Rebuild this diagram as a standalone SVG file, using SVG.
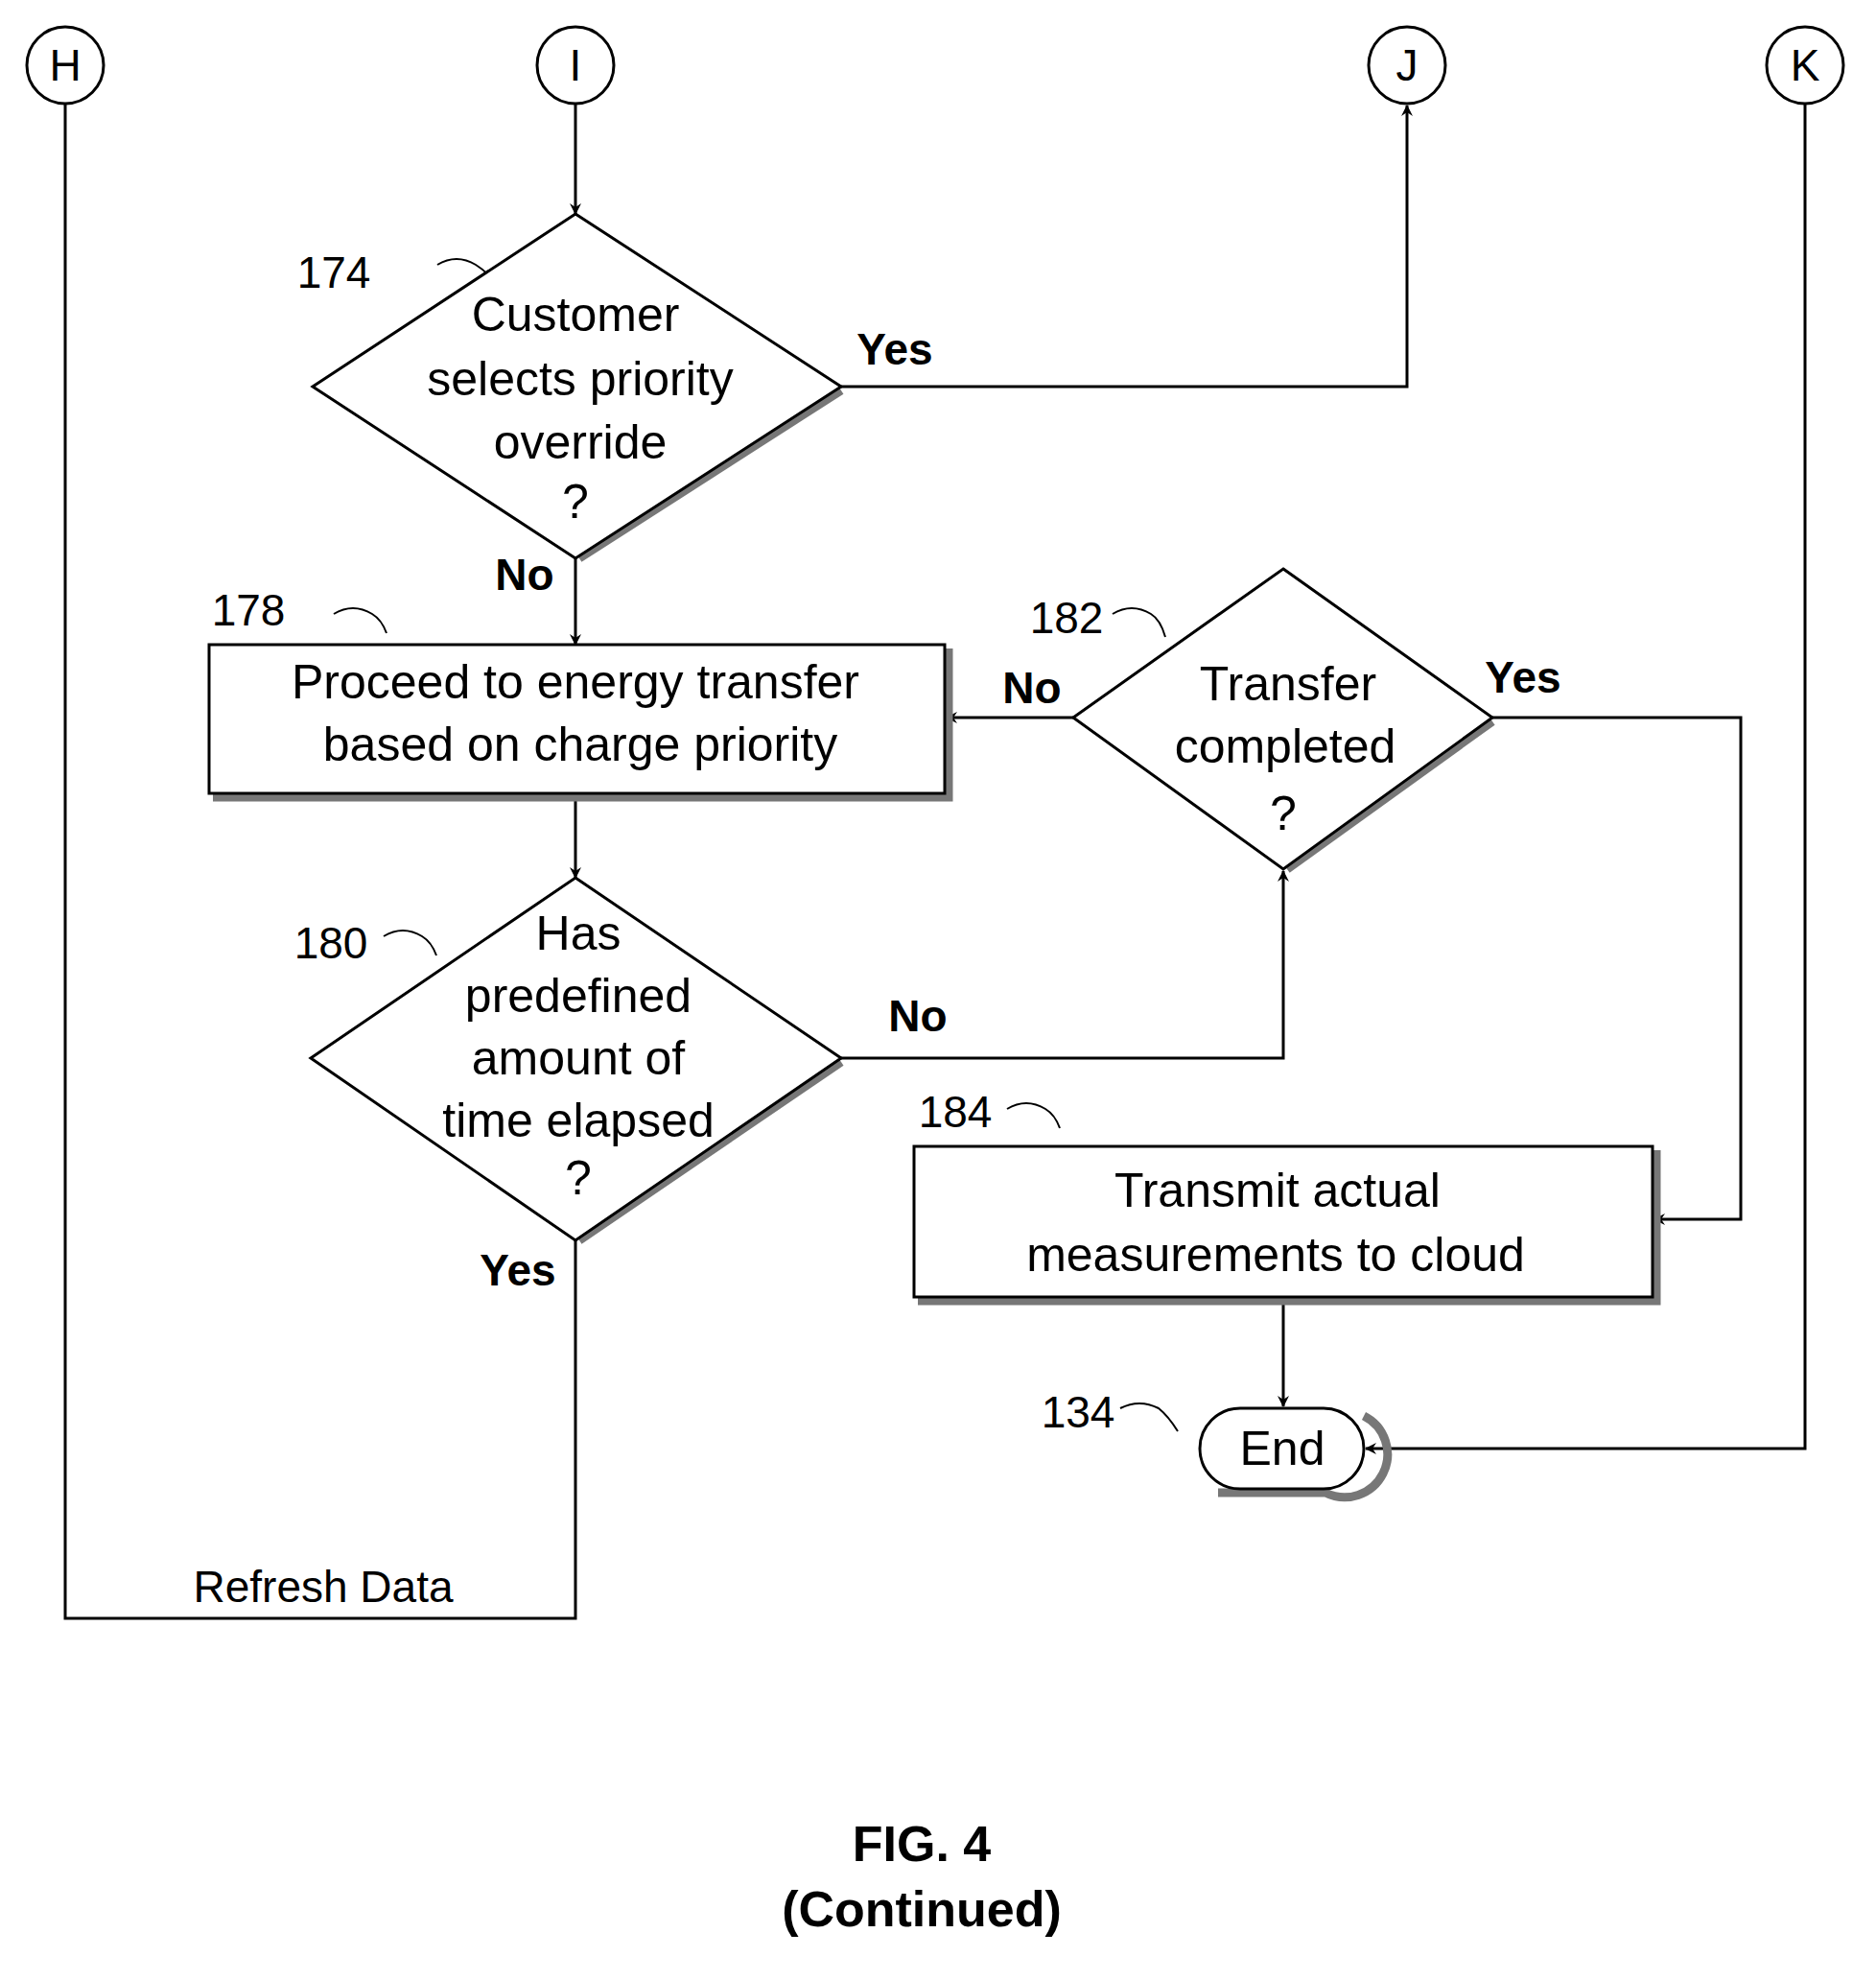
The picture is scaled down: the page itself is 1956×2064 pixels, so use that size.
<svg xmlns="http://www.w3.org/2000/svg" width="1956" height="2064" viewBox="0 0 1956 2064">
<style>
.s{fill:none;stroke:#000;stroke-width:3}
.n{fill:#fff;stroke:#000;stroke-width:3}
.sh{fill:none;stroke:#777;stroke-width:9}
.t{font-family:"Liberation Sans",Arial,sans-serif;font-size:50px;text-anchor:middle;fill:#000}
.r{font-family:"Liberation Sans",Arial,sans-serif;font-size:46px;text-anchor:middle;fill:#000}
.b{font-family:"Liberation Sans",Arial,sans-serif;font-size:46px;font-weight:bold;text-anchor:middle;fill:#000}
</style>
<defs><marker id="a" markerWidth="12" markerHeight="12" refX="11" refY="6" orient="auto" markerUnits="userSpaceOnUse"><path d="M0,0 L12,6 L0,12 L4,6 Z" fill="#000"/></marker></defs>
<rect width="1956" height="2064" fill="#fff"/>
<g id="connectors" class="s">
<path d="M600,108 V223" marker-end="url(#a)"/>
<path d="M877,403 H1467 V110" marker-end="url(#a)"/>
<path d="M600,582 V672" marker-end="url(#a)"/>
<path d="M600,827 V915" marker-end="url(#a)"/>
<path d="M1119,748 H987" marker-end="url(#a)"/>
<path d="M877,1103 H1338 V908" marker-end="url(#a)"/>
<path d="M1556,748 H1815 V1271 H1725" marker-end="url(#a)"/>
<path d="M1338,1352 V1466" marker-end="url(#a)"/>
<path d="M1882,108 V1510 H1424" marker-end="url(#a)"/>
<path d="M600,1293 V1687 H68 V108"/>
<path d="M456,276 q20,-12 40,0 q10,6 20,18 M348,640 q20,-12 40,0 q10,6 15,20 M400,976 q20,-12 40,0 q10,6 15,20 M1160,640 q20,-12 40,0 q10,6 15,24 M1050,1156 q20,-12 40,0 q10,6 15,20 M1168,1468 q20,-10 40,0 q10,8 20,24" stroke-width="2"/>
</g>
<g id="H"><circle class="n" cx="68" cy="68" r="40"/><text class="r" x="68" y="84">H</text></g>
<g id="I"><circle class="n" cx="600" cy="68" r="40"/><text class="r" x="600" y="84">I</text></g>
<g id="J"><circle class="n" cx="1467" cy="68" r="40"/><text class="r" x="1467" y="84">J</text></g>
<g id="K"><circle class="n" cx="1882" cy="68" r="40"/><text class="r" x="1882" y="84">K</text></g>
<g id="n174"><path class="sh" d="M877,407 L604,582"/><path class="n" d="M600,223 L877,403 L600,582 L326,403 Z"/>
<text class="t" x="600" y="345">Customer</text><text class="t" x="605" y="412">selects priority</text><text class="t" x="605" y="478">override</text><text class="t" x="600" y="540">?</text>
<text class="r" x="348" y="300">174</text></g>
<g id="n178"><path class="sh" d="M989,676 V831 H222"/><rect class="n" x="218" y="672" width="767" height="155"/>
<text class="t" x="600" y="728">Proceed to energy transfer</text><text class="t" x="605" y="793">based on charge priority</text>
<text class="r" x="259" y="652">178</text></g>
<g id="n182"><path class="sh" d="M1556,752 L1342,906"/><path class="n" d="M1338,593 L1556,748 L1338,906 L1119,748 Z"/>
<text class="t" x="1343" y="730">Transfer</text><text class="t" x="1340" y="795">completed</text><text class="t" x="1338" y="865">?</text>
<text class="r" x="1112" y="660">182</text></g>
<g id="n180"><path class="sh" d="M877,1107 L604,1293"/><path class="n" d="M600,915 L877,1103 L600,1293 L324,1103 Z"/>
<text class="t" x="603" y="990">Has</text><text class="t" x="603" y="1055">predefined</text><text class="t" x="603" y="1120">amount of</text><text class="t" x="603" y="1185">time elapsed</text><text class="t" x="603" y="1245">?</text>
<text class="r" x="345" y="999">180</text></g>
<g id="n184"><path class="sh" d="M1727,1199 V1356 H957"/><rect class="n" x="953" y="1195" width="770" height="157"/>
<text class="t" x="1332" y="1258">Transmit actual</text><text class="t" x="1330" y="1325">measurements to cloud</text>
<text class="r" x="996" y="1175">184</text></g>
<g id="n134"><path class="sh" d="M1422,1476 A40,40 0 0 1 1382,1556 H1270"/><rect class="n" x="1251" y="1468" width="171" height="84" rx="42"/>
<text class="t" x="1337" y="1527">End</text><text class="r" x="1124" y="1488">134</text></g>
<g id="labels">
<text class="b" x="933" y="380">Yes</text><text class="b" x="547" y="615">No</text>
<text class="b" x="1076" y="733">No</text><text class="b" x="1588" y="722">Yes</text>
<text class="b" x="957" y="1075">No</text><text class="b" x="540" y="1340">Yes</text>
<text class="r" x="337" y="1670">Refresh Data</text>
<text class="b" x="961" y="1940" style="font-size:52px">FIG. 4</text>
<text class="b" x="961" y="2008" style="font-size:52px">(Continued)</text>
</g>
</svg>
